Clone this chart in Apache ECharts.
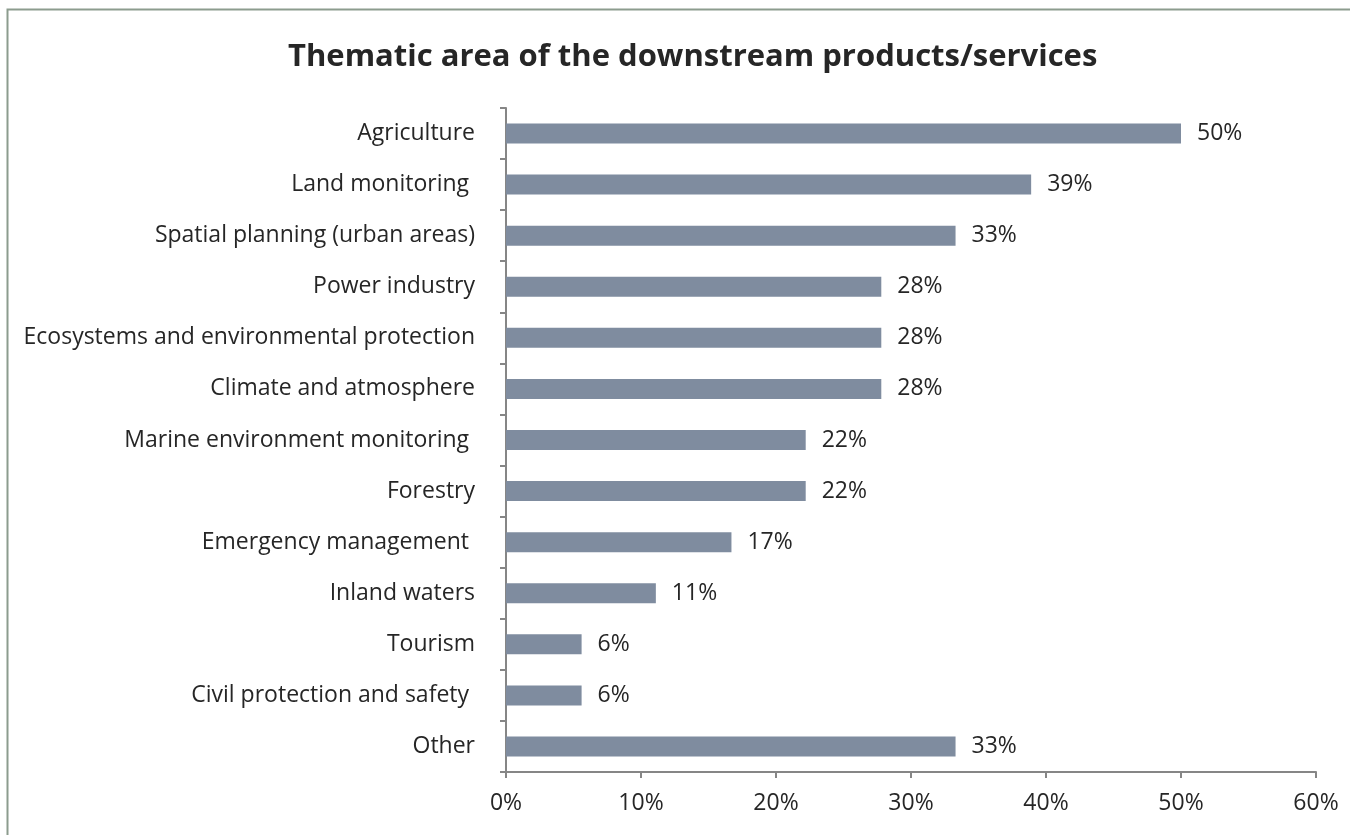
<!DOCTYPE html>
<html><head><meta charset="utf-8">
<script src="https://cdn.jsdelivr.net/npm/echarts@6/dist/echarts.min.js"></script>
<style>html,body{margin:0;padding:0;background:#fff}#c{width:1350px;height:835px}</style>
</head><body><div id="c"></div>
<script>
const categories = ["Agriculture","Land monitoring ","Spatial planning (urban areas)","Power industry","Ecosystems and environmental protection","Climate and atmosphere","Marine environment monitoring ","Forestry","Emergency management ","Inland waters","Tourism","Civil protection and safety ","Other"];
const values = [50, 38.9, 33.3, 27.8, 27.8, 27.8, 22.2, 22.2, 16.7, 11.1, 5.6, 5.6, 33.3];
const xTicks = [0, 10, 20, 30, 40, 50, 60];

const chart = echarts.init(document.getElementById('c'), null, {renderer:'canvas'});
const font = 'Open Sans';
chart.setOption({
  animation:false,
  backgroundColor:'#fff',
  title:{text:'Thematic area of the downstream products/services', left:283, top:37,
    textStyle:{fontFamily:font, fontWeight:'bold', fontSize:31, color:'#262626'}},
  graphic:[{type:'rect', shape:{x:7.5,y:9.5,width:1400,height:900}, style:{fill:'none', stroke:'#8c9c8e', lineWidth:2}}],
  grid:{left:506, right:34, top:108, bottom:63},
  xAxis:{type:'value', min:xTicks[0], max:xTicks[xTicks.length-1], interval:10,
    axisLine:{show:true, lineStyle:{color:'#868686', width:2}},
    axisTick:{show:true, length:6, lineStyle:{color:'#868686', width:2}},
    splitLine:{show:false},
    axisLabel:{formatter:v=>v+'%', fontFamily:font, fontSize:23, color:'#262626', margin:20}},
  yAxis:{type:'category', data:categories, inverse:true,
    axisLine:{lineStyle:{color:'#868686', width:2}},
    axisTick:{show:true, length:6, lineStyle:{color:'#868686', width:2}},
    axisLabel:{fontFamily:font, fontSize:23, color:'#262626', margin:31}},
  series:[{type:'bar', data:values, barWidth:20,
    itemStyle:{color:'#7f8c9f'},
    label:{show:true, position:'right', distance:16, formatter:p=>Math.round(p.value)+'%',
      fontFamily:font, fontSize:23, color:'#262626'}}]
});
</script></body></html>
